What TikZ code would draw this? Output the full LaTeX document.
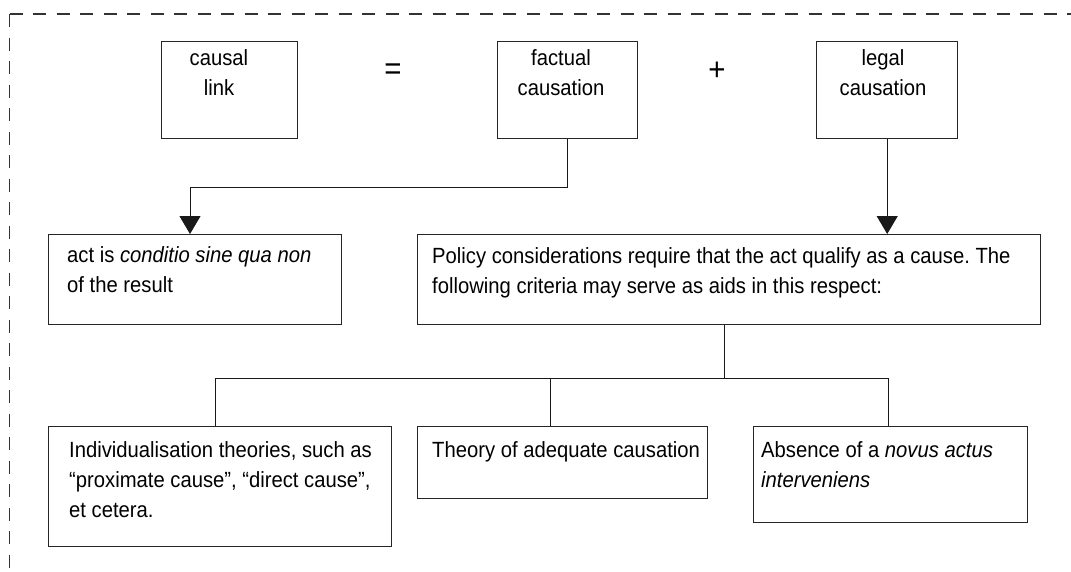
\documentclass[tikz,border=0pt]{standalone}
\usepackage{fontspec}
\setmainfont[FakeStretch=0.92]{Liberation Sans}
\usetikzlibrary{arrows.meta}
\frenchspacing
\begin{document}
\begin{tikzpicture}[x=1pt,y=-1pt,
  box/.style={draw=black!85,line width=1.4pt,rectangle,inner sep=0pt,anchor=north west},
  txt/.style={inner sep=0pt,align=left,anchor=north west,font={\fontsize{22}{30}\selectfont}},
  ctxt/.style={inner sep=0pt,align=center,anchor=north,font={\fontsize{22}{30}\selectfont}},
  sym/.style={inner sep=0pt,font={\fontsize{32}{32}\selectfont}},
  link/.style={draw=black!90,line width=1pt},
  arr/.style={link,-{Triangle[width=21pt,length=18pt]}},
  frame/.style={draw=black!80,line width=1.4pt,dash pattern=on 13pt off 10.5pt}
]
\useasboundingbox (0,0) rectangle (1071,571);

% open dashed frame
\coordinate (corner) at (9.5,14);
\draw[frame] (corner) -- (1071,14);
\draw[frame] (corner) -- (9.5,571);

% top row
\node[box,minimum width=136pt,minimum height=97pt] (causal) at (161,41) {};
\node[ctxt] (causal-t) at (219,49) {causal\\link};
\node[sym] (eq) at (393,72) {=};
\node[box,minimum width=140pt,minimum height=97pt] (factual) at (497,41) {};
\node[ctxt] (factual-t) at (561,49) {factual\\causation};
\node[sym] (plus) at (717,71) {+};
\node[box,minimum width=141pt,minimum height=97pt] (legal) at (816,41) {};
\node[ctxt] (legal-t) at (883,49) {legal\\causation};

% middle row
\node[box,minimum width=293pt,minimum height=90pt] (act) at (48,234) {};
\node[txt] (act-t) at (67,246) {act is \textit{conditio sine qua non}\\of the result};
\node[box,minimum width=623pt,minimum height=90pt] (policy) at (417,234) {};
\node[txt] (policy-t) at (432,247) {Policy considerations require that the act qualify as a cause. The\\following criteria may serve as aids in this respect:};

% bottom row
\node[box,minimum width=343pt,minimum height=120pt] (b1) at (48,426) {};
\node[txt] (b1-t) at (69,441) {Individualisation theories, such as\\``proximate cause'', ``direct cause'',\\et cetera.};
\node[box,minimum width=290pt,minimum height=72pt] (b2) at (417,426) {};
\node[txt] (b2-t) at (432,441) {Theory of adequate causation};
\node[box,minimum width=274pt,minimum height=96pt] (b3) at (753,426) {};
\node[txt] (b3-t) at (761,441) {Absence of a \textit{novus actus}\\\textit{interveniens}};

% connectors
\coordinate (fk) at (190,187);
\draw[arr] (factual.south) |- (fk) -- (fk |- act.north);
\draw[arr] (legal.south) -- (legal.south |- policy.north);

\coordinate (pdrop) at ([xshift=-4.5pt]policy.south);
\coordinate (busL) at (215,378);
\coordinate (busM) at (550,378);
\coordinate (busR) at (888,378);
\draw[link] (pdrop) -- (pdrop |- busL);
\draw[link] (busL) -- (busR);
\draw[link] (busL) -- (busL |- b1.north);
\draw[link] (busM) -- (busM |- b2.north);
\draw[link] (busR) -- (busR |- b3.north);
\end{tikzpicture}
\end{document}
